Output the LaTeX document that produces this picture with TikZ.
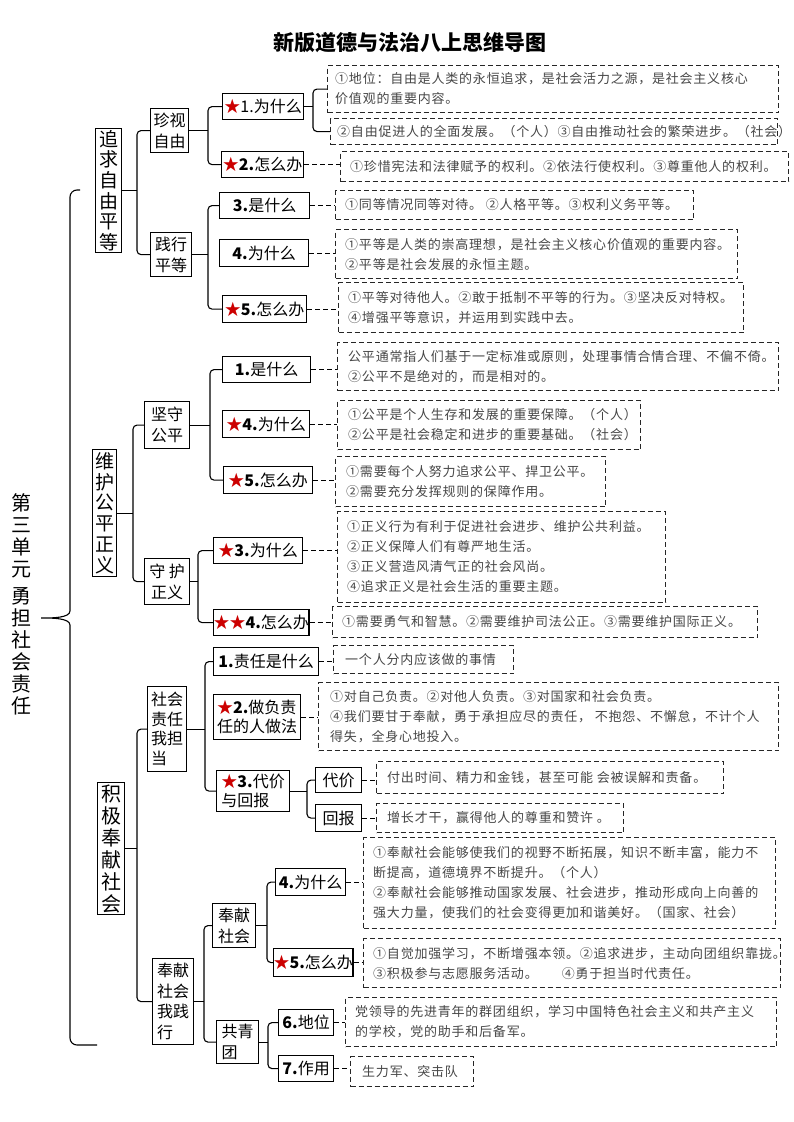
\documentclass[tikz,border=0pt]{standalone}
\usepackage{fontspec}
\newfontfamily\cjk{Noto Sans CJK SC}
\newfontfamily\cjkbody{Noto Sans CJK SC}[LetterSpace=6]
\newcommand\Star{\textcolor{red!80!black}{★}}
\tikzset{
  lab/.style={draw, line width=1.2pt, anchor=north west, inner sep=0pt, align=center,
    font=\cjk\fontsize{16}{19}\selectfont},
  vbox/.style={lab, font=\cjk\fontsize{19}{20.7}\selectfont},
  mbox/.style={lab, font=\cjk\fontsize{16}{21}\selectfont},
  dframe/.style={draw=black!85, dash pattern=on 5pt off 3pt, line width=1.1pt,
    anchor=north west, inner sep=0pt},
  dtext/.style={anchor=west, inner sep=0pt, align=left,
    font=\cjkbody\fontsize{13}{20}\selectfont, text=black!72},
  br/.style={line width=1.1pt, rounded corners=4pt},
  dconn/.style={dash pattern=on 5pt off 3pt, line width=1.1pt},
}
\newcommand\Lbox[7][]{\node[lab,#1,minimum width=#5pt-#3pt,minimum height=#6pt-#4pt] (#2) at (#3,#4) {#7};}
\newcommand\Dbox[7][10]{\node[dframe,minimum width=#5pt-#3pt,minimum height=#6pt-#4pt] (#2) at (#3,#4) {};%
  \node[dtext] (#2t) at ([xshift=#1pt]#2.west) {#7};}
\newcommand\Brace[4]{\coordinate (bxtmp) at (#4,0);%
  \draw[br] (#2.west) -| (#1.east -| bxtmp) |- (#3.west);%
  \draw[br] (#1.east) -- (#1.east -| bxtmp);}
\newcommand\Dc[2]{\draw[dconn] (#1.east) -- (#1.east -| #2.west);}
\begin{document}
\begin{tikzpicture}[x=1pt,y=-1pt]
\fill[white] (0,0) rectangle (793,1122);
\useasboundingbox (0,0) rectangle (793,1122);

% title
\node[font=\cjk\bfseries\fontsize{21}{24}\selectfont, inner sep=0pt] (title) at (410,43) {新版道德与法治八上思维导图};

% root
\node[font=\cjk\fontsize{20}{22}\selectfont, align=center, inner sep=0pt] (root) at (22,604)
  {第\\三\\单\\元\\[5pt]勇\\担\\社\\会\\责\\任};
\coordinate (mt) at (80,190);
\coordinate (mb) at (97,1045);
\coordinate (mtip) at (37,618);
\draw[br, rounded corners=7pt] (mt) -| (70,604) to[out=-90,in=0] (mtip) to[out=0,in=90] (70,632) |- (mb);

% level 1
\Lbox[vbox]{la}{95}{128}{121}{252}{追\\求\\自\\由\\平\\等}
\Lbox[vbox]{lb}{92}{449}{116}{576}{维\\护\\公\\平\\正\\义}
\Lbox[vbox,font=\cjk\fontsize{20}{22}\selectfont]{lc}{97}{782}{124}{914}{积\\极\\奉\\献\\社\\会}

% level 2
\Lbox[mbox]{a1}{150}{108}{188}{152}{珍视\\自由}
\Lbox[mbox]{a2}{150}{232}{191}{276}{践行\\平等}
\Lbox[mbox]{b1}{144}{401}{189}{448}{坚守\\公平}
\Lbox[mbox]{b2}{144}{558}{189}{604}{守 护\\正义}
\Lbox[mbox,align=left,font=\cjk\fontsize{16}{19.5}\selectfont]{c1}{147}{686}{186}{771}{社会\\责任\\我担\\当}
\Lbox[mbox,align=left,font=\cjk\fontsize{16}{20.5}\selectfont]{c2}{152}{958}{193}{1044}{奉献\\社会\\我践\\行}

% level 3
\Lbox{a11}{222}{93}{303}{119}{\Star1.为什么}
\Lbox{a12}{221}{151}{303}{177}{\Star\textbf{2.}怎么办}
\Lbox{a21}{219}{192}{309}{218}{\textbf{3.}是什么}
\Lbox{a22}{219}{239}{308}{266}{\textbf{4.}为什么}
\Lbox{a23}{222}{295}{306}{322}{\Star\textbf{5.}怎么办}
\Lbox{b11}{222}{356}{310}{382}{\textbf{1.}是什么}
\Lbox{b12}{222}{410}{309}{437}{\Star\textbf{4.}为什么}
\Lbox{b13}{223}{466}{312}{493}{\Star\textbf{5.}怎么办}
\Lbox{b21}{213}{537}{302}{563}{\Star\textbf{3.}为什么}
\Lbox{b22}{213}{609}{307}{635}{\Star\Star\textbf{4.}怎么办}
\Lbox{c11}{213}{647}{318}{675}{\textbf{1.}责任是什么}
\Lbox[align=left]{c12}{213}{694}{300}{739}{\Star\textbf{2.}做负责\\任的人做法}
\Lbox[align=left]{c13}{216}{770}{289}{811}{\Star\textbf{3.}代价\\与回报}
\Lbox[align=left,font=\cjk\fontsize{16}{21}\selectfont]{c21}{212}{903}{255}{947}{奉献\\社会}
\Lbox[align=left,font=\cjk\fontsize{16}{21}\selectfont]{c22}{216}{1020}{258}{1063}{共青\\团}

% level 4
\Lbox{c131}{315}{767}{361}{792}{代价}
\Lbox{c132}{315}{804}{361}{831}{回报}
\Lbox{c211}{275}{868}{345}{895}{\textbf{4.}为什么}
\Lbox{c212}{273}{948}{351}{976}{\Star\textbf{5.}怎么办}
\Lbox{c221}{278}{1009}{333}{1035}{\textbf{6.}地位}
\Lbox{c222}{278}{1055}{333}{1081}{\textbf{7.}作用}

% dashed content boxes
\Dbox[8]{A1}{327}{65}{778}{112}{①地位：自由是人类的永恒追求，是社会活力之源，是社会主义核心\\价值观的重要内容。}
\Dbox[7]{A2}{330}{118}{777}{144}{②自由促进人的全面发展。（个人）③自由推动社会的繁荣进步。（社会）}
\Dbox{B}{340}{151}{788}{181}{①珍惜宪法和法律赋予的权利。②依法行使权利。③尊重他人的权利。}
\Dbox{C}{335}{190}{693}{219}{①同等情况同等对待。 ②人格平等。③权利义务平等。}
\Dbox{D}{335}{229}{737}{278}{①平等是人类的崇高理想，是社会主义核心价值观的重要内容。\\②平等是社会发展的永恒主题。}
\Dbox{E}{338}{282}{743}{332}{①平等对待他人。②敢于抵制不平等的行为。③坚决反对特权。\\④增强平等意识，并运用到实践中去。}
\Dbox[11]{F}{337}{342}{778}{390}{公平通常指人们基于一定标准或原则，处理事情合情合理、不偏不倚。\\②公平不是绝对的，而是相对的。}
\Dbox[11]{G}{337}{400}{640}{449}{①公平是个人生存和发展的重要保障。（个人）\\②公平是社会稳定和进步的重要基础。（社会）}
\Dbox[11]{H}{335}{456}{605}{506}{①需要每个人努力追求公平、捍卫公平。\\②需要充分发挥规则的保障作用。}
\Dbox{I}{337}{511}{665}{602}{①正义行为有利于促进社会进步、维护公共利益。\\②正义保障人们有尊严地生活。\\③正义营造风清气正的社会风尚。\\④追求正义是社会生活的重要主题。}
\Dbox{J}{332}{606}{757}{637}{①需要勇气和智慧。②需要维护司法公正。③需要维护国际正义。}
\Dbox[12]{K}{333}{645}{513}{673}{一个人分内应该做的事情}
\Dbox[12]{L}{318}{682}{778}{750}{①对自己负责。②对他人负责。③对国家和社会负责。\\④我们要甘于奉献，勇于承担应尽的责任， 不抱怨、不懈怠，不计个人\\得失，全身心地投入。}
\Dbox[11]{M}{376}{761}{723}{793}{付出时间、精力和金钱，甚至可能 会被误解和责备。}
\Dbox[11]{N}{376}{803}{623}{832}{增长才干，赢得他人的尊重和赞许 。}
\Dbox{O}{363}{837}{775}{928}{①奉献社会能够使我们的视野不断拓展，知识不断丰富，能力不\\断提高，道德境界不断提升。（个人）\\②奉献社会能够推动国家发展、社会进步，推动形成向上向善的\\强大力量，使我们的社会变得更加和谐美好。（国家、社会）}
\Dbox{P}{363}{938}{780}{987}{①自觉加强学习，不断增强本领。②追求进步，主动向团组织靠拢。\\③积极参与志愿服务活动。\hspace{24pt}④勇于担当时代责任。}
\Dbox{Q}{345}{997}{776}{1046}{党领导的先进青年的群团组织，学习中国特色社会主义和共产主义\\的学校，党的助手和后备军。}
\Dbox[12]{R}{350}{1056}{473}{1086}{生力军、突击队}

% braces
\Brace{la}{a1}{a2}{137}
\Brace{a1}{a11}{a12}{208}
\Brace{a11}{A1}{A2}{313}
\Brace{a2}{a21}{a23}{208}
\Brace{lb}{b1}{b2}{133}
\Brace{b1}{b11}{b13}{210}
\Brace{b2}{b21}{b22}{198}
\Brace{lc}{c1}{c2}{137}
\Brace{c1}{c11}{c13}{205}
\Brace{c13}{c131}{c132}{307}
\Brace{c2}{c21}{c22}{204}
\Brace{c21}{c211}{c212}{267}
\Brace{c22}{c221}{c222}{268}

% dashed connectors
\Dc{a12}{B}
\Dc{a21}{C}
\Dc{a22}{D}
\Dc{a23}{E}
\Dc{b11}{F}
\Dc{b12}{G}
\Dc{b13}{H}
\Dc{b21}{I}
\Dc{b22}{J}
\Dc{c11}{K}
\Dc{c12}{L}
\Dc{c131}{M}
\Dc{c132}{N}
\Dc{c211}{O}
\Dc{c212}{P}
\Dc{c221}{Q}
\Dc{c222}{R}
\end{tikzpicture}
\end{document}
